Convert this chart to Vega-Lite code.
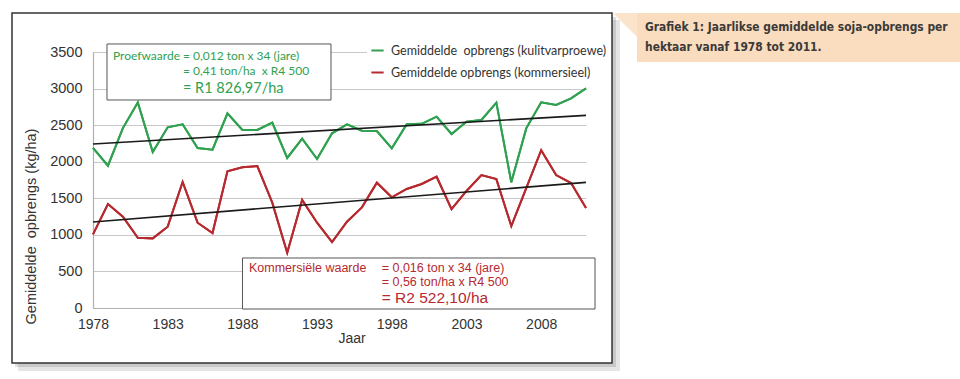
{
  "$schema": "https://vega.github.io/schema/vega-lite/v6.json",
  "width": 493,
  "height": 256,
  "autosize": {"type": "none"},
  "padding": {"left": 93, "top": 52, "right": 374, "bottom": 71},
  "background": "white",
  "config": {"view": {"stroke": null}, "font": "Liberation Sans"},
  "resolve": {"axis": {"x": "independent", "y": "independent"}},
  "datasets": {
    "yields": [
      {"year": 1978, "series": "Gemiddelde\u00a0 opbrengs (kulitvarproewe)", "value": 2190},
      {"year": 1979, "series": "Gemiddelde\u00a0 opbrengs (kulitvarproewe)", "value": 1945},
      {"year": 1980, "series": "Gemiddelde\u00a0 opbrengs (kulitvarproewe)", "value": 2460},
      {"year": 1981, "series": "Gemiddelde\u00a0 opbrengs (kulitvarproewe)", "value": 2810},
      {"year": 1982, "series": "Gemiddelde\u00a0 opbrengs (kulitvarproewe)", "value": 2133},
      {"year": 1983, "series": "Gemiddelde\u00a0 opbrengs (kulitvarproewe)", "value": 2470},
      {"year": 1984, "series": "Gemiddelde\u00a0 opbrengs (kulitvarproewe)", "value": 2511},
      {"year": 1985, "series": "Gemiddelde\u00a0 opbrengs (kulitvarproewe)", "value": 2187},
      {"year": 1986, "series": "Gemiddelde\u00a0 opbrengs (kulitvarproewe)", "value": 2165},
      {"year": 1987, "series": "Gemiddelde\u00a0 opbrengs (kulitvarproewe)", "value": 2661},
      {"year": 1988, "series": "Gemiddelde\u00a0 opbrengs (kulitvarproewe)", "value": 2434},
      {"year": 1989, "series": "Gemiddelde\u00a0 opbrengs (kulitvarproewe)", "value": 2434},
      {"year": 1990, "series": "Gemiddelde\u00a0 opbrengs (kulitvarproewe)", "value": 2534},
      {"year": 1991, "series": "Gemiddelde\u00a0 opbrengs (kulitvarproewe)", "value": 2051},
      {"year": 1992, "series": "Gemiddelde\u00a0 opbrengs (kulitvarproewe)", "value": 2315},
      {"year": 1993, "series": "Gemiddelde\u00a0 opbrengs (kulitvarproewe)", "value": 2037},
      {"year": 1994, "series": "Gemiddelde\u00a0 opbrengs (kulitvarproewe)", "value": 2388},
      {"year": 1995, "series": "Gemiddelde\u00a0 opbrengs (kulitvarproewe)", "value": 2511},
      {"year": 1996, "series": "Gemiddelde\u00a0 opbrengs (kulitvarproewe)", "value": 2424},
      {"year": 1997, "series": "Gemiddelde\u00a0 opbrengs (kulitvarproewe)", "value": 2420},
      {"year": 1998, "series": "Gemiddelde\u00a0 opbrengs (kulitvarproewe)", "value": 2183},
      {"year": 1999, "series": "Gemiddelde\u00a0 opbrengs (kulitvarproewe)", "value": 2511},
      {"year": 2000, "series": "Gemiddelde\u00a0 opbrengs (kulitvarproewe)", "value": 2518},
      {"year": 2001, "series": "Gemiddelde\u00a0 opbrengs (kulitvarproewe)", "value": 2616},
      {"year": 2002, "series": "Gemiddelde\u00a0 opbrengs (kulitvarproewe)", "value": 2379},
      {"year": 2003, "series": "Gemiddelde\u00a0 opbrengs (kulitvarproewe)", "value": 2547},
      {"year": 2004, "series": "Gemiddelde\u00a0 opbrengs (kulitvarproewe)", "value": 2570},
      {"year": 2005, "series": "Gemiddelde\u00a0 opbrengs (kulitvarproewe)", "value": 2807},
      {"year": 2006, "series": "Gemiddelde\u00a0 opbrengs (kulitvarproewe)", "value": 1718},
      {"year": 2007, "series": "Gemiddelde\u00a0 opbrengs (kulitvarproewe)", "value": 2456},
      {"year": 2008, "series": "Gemiddelde\u00a0 opbrengs (kulitvarproewe)", "value": 2812},
      {"year": 2009, "series": "Gemiddelde\u00a0 opbrengs (kulitvarproewe)", "value": 2775},
      {"year": 2010, "series": "Gemiddelde\u00a0 opbrengs (kulitvarproewe)", "value": 2866},
      {"year": 2011, "series": "Gemiddelde\u00a0 opbrengs (kulitvarproewe)", "value": 3003},
      {"year": 1978, "series": "Gemiddelde opbrengs (kommersieel)", "value": 1007},
      {"year": 1979, "series": "Gemiddelde opbrengs (kommersieel)", "value": 1422},
      {"year": 1980, "series": "Gemiddelde opbrengs (kommersieel)", "value": 1248},
      {"year": 1981, "series": "Gemiddelde opbrengs (kommersieel)", "value": 961},
      {"year": 1982, "series": "Gemiddelde opbrengs (kommersieel)", "value": 952},
      {"year": 1983, "series": "Gemiddelde opbrengs (kommersieel)", "value": 1112},
      {"year": 1984, "series": "Gemiddelde opbrengs (kommersieel)", "value": 1723},
      {"year": 1985, "series": "Gemiddelde opbrengs (kommersieel)", "value": 1166},
      {"year": 1986, "series": "Gemiddelde opbrengs (kommersieel)", "value": 1025},
      {"year": 1987, "series": "Gemiddelde opbrengs (kommersieel)", "value": 1869},
      {"year": 1988, "series": "Gemiddelde opbrengs (kommersieel)", "value": 1923},
      {"year": 1989, "series": "Gemiddelde opbrengs (kommersieel)", "value": 1941},
      {"year": 1990, "series": "Gemiddelde opbrengs (kommersieel)", "value": 1440},
      {"year": 1991, "series": "Gemiddelde opbrengs (kommersieel)", "value": 756},
      {"year": 1992, "series": "Gemiddelde opbrengs (kommersieel)", "value": 1477},
      {"year": 1993, "series": "Gemiddelde opbrengs (kommersieel)", "value": 1166},
      {"year": 1994, "series": "Gemiddelde opbrengs (kommersieel)", "value": 902},
      {"year": 1995, "series": "Gemiddelde opbrengs (kommersieel)", "value": 1180},
      {"year": 1996, "series": "Gemiddelde opbrengs (kommersieel)", "value": 1376},
      {"year": 1997, "series": "Gemiddelde opbrengs (kommersieel)", "value": 1713},
      {"year": 1998, "series": "Gemiddelde opbrengs (kommersieel)", "value": 1513},
      {"year": 1999, "series": "Gemiddelde opbrengs (kommersieel)", "value": 1627},
      {"year": 2000, "series": "Gemiddelde opbrengs (kommersieel)", "value": 1695},
      {"year": 2001, "series": "Gemiddelde opbrengs (kommersieel)", "value": 1795},
      {"year": 2002, "series": "Gemiddelde opbrengs (kommersieel)", "value": 1352},
      {"year": 2003, "series": "Gemiddelde opbrengs (kommersieel)", "value": 1600},
      {"year": 2004, "series": "Gemiddelde opbrengs (kommersieel)", "value": 1817},
      {"year": 2005, "series": "Gemiddelde opbrengs (kommersieel)", "value": 1762},
      {"year": 2006, "series": "Gemiddelde opbrengs (kommersieel)", "value": 1120},
      {"year": 2007, "series": "Gemiddelde opbrengs (kommersieel)", "value": 1640},
      {"year": 2008, "series": "Gemiddelde opbrengs (kommersieel)", "value": 2158},
      {"year": 2009, "series": "Gemiddelde opbrengs (kommersieel)", "value": 1817},
      {"year": 2010, "series": "Gemiddelde opbrengs (kommersieel)", "value": 1708},
      {"year": 2011, "series": "Gemiddelde opbrengs (kommersieel)", "value": 1366}
    ],
    "trend": [
      {"year": 1978, "series": "kulitvarproewe", "value": 2242},
      {"year": 2011, "series": "kulitvarproewe", "value": 2634},
      {"year": 1978, "series": "kommersieel", "value": 1176},
      {"year": 2011, "series": "kommersieel", "value": 1718}
    ]
  },
  "layer": [
    {
      "data": {"name": "yields"},
      "mark": {"type": "line", "strokeWidth": 2, "clip": false},
      "encoding": {
        "x": {"field": "year", "type": "quantitative",
          "scale": {"domain": [1978, 2011], "nice": false, "zero": false},
          "axis": {"title": "Jaar", "values": [1978, 1983, 1988, 1993, 1998, 2003, 2008], "format": "d",
            "grid": false, "domain": true, "ticks": false, "tickSize": 0, "labelPadding": 9, "labelFontSize": 14,
            "labelColor": "#333333", "labelFont": "Liberation Sans", "domainColor": "#b0b0b0", "domainWidth": 1.2, "labelFlush": false,
            "labelOverlap": false, "titleFontSize": 14, "titleFontWeight": "normal", "titleColor": "#333333",
            "titleFont": "Liberation Sans", "titleX": 258.5, "titleY": 30, "titleBaseline": "middle"}},
        "y": {"field": "value", "type": "quantitative",
          "scale": {"domain": [0, 3500], "nice": false},
          "axis": {"title": "Gemiddelde\u00a0 opbrengs (kg/ha)", "values": [0, 500, 1000, 1500, 2000, 2500, 3000, 3500],
            "format": "d", "labelOverlap": false, "labelFlush": false, "domain": true,
            "grid": true, "gridColor": "#c8c8c8", "gridOpacity": 1, "gridWidth": 1.1, "ticks": false, "tickSize": 0, "labelPadding": 11,
            "labelFontSize": 14.5, "labelColor": "#333333", "labelFont": "Liberation Sans", "domainColor": "#b0b0b0", "domainWidth": 1.2,
            "titleFontSize": 14.5, "titleFontWeight": "normal", "titleColor": "#333333", "titleFont": "Liberation Sans",
            "titleX": -61.5, "titleY": 174, "titleBaseline": "middle"}},
        "color": {"field": "series", "type": "nominal",
          "scale": {"domain": ["Gemiddelde\u00a0 opbrengs (kulitvarproewe)", "Gemiddelde opbrengs (kommersieel)"],
            "range": ["#30a150", "#b62a2f"]},
          "legend": {"orient": "none", "legendX": 274, "legendY": -12, "title": null, "symbolType": "stroke",
            "symbolStrokeWidth": 2, "symbolSize": 150, "labelFont": "Lato", "labelFontSize": 12.5,
            "labelColor": "#333333", "rowPadding": 8, "labelOffset": 6, "labelLimit": 400,
            "fillColor": "white", "padding": 3, "strokeColor": null}}
      }
    },
    {
      "data": {"values": [{}]},
      "mark": {"type": "rect", "fill": "#000000", "opacity": 0.1, "clip": false},
      "encoding": {
        "x": {"datum": 2012.741, "type": "quantitative", "axis": null},
        "x2": {"datum": 2013.277},
        "y": {"datum": 3937.5, "type": "quantitative", "axis": null},
        "y2": {"datum": -861.3}
      }
    },
    {
      "data": {"values": [{}]},
      "mark": {"type": "rect", "fill": "#000000", "opacity": 0.12, "clip": false},
      "encoding": {
        "x": {"datum": 2012.741, "type": "quantitative", "axis": null},
        "x2": {"datum": 2013.009},
        "y": {"datum": 3978.5, "type": "quantitative", "axis": null},
        "y2": {"datum": -806.6}
      }
    },
    {
      "data": {"values": [{}]},
      "mark": {"type": "rect", "fill": "#000000", "opacity": 0.1, "clip": false},
      "encoding": {
        "x": {"datum": 1972.98, "type": "quantitative", "axis": null},
        "x2": {"datum": 2012.741},
        "y": {"datum": -752.0, "type": "quantitative", "axis": null},
        "y2": {"datum": -861.3}
      }
    },
    {
      "data": {"values": [{}]},
      "mark": {"type": "rect", "fill": "#000000", "opacity": 0.12, "clip": false},
      "encoding": {
        "x": {"datum": 1972.779, "type": "quantitative", "axis": null},
        "x2": {"datum": 2012.741},
        "y": {"datum": -752.0, "type": "quantitative", "axis": null},
        "y2": {"datum": -806.6}
      }
    },
    {
      "data": {"values": [{}]},
      "mark": {"type": "rect", "filled": false, "stroke": "#333333", "strokeWidth": 1.5, "clip": false},
      "encoding": {
        "x": {"datum": 1972.578, "type": "quantitative", "axis": null},
        "x2": {"datum": 2012.741},
        "y": {"datum": 4033.2, "type": "quantitative", "axis": null},
        "y2": {"datum": -752.0}
      }
    },
    {
      "data": {"values": [{}]},
      "mark": {"type": "rect", "fill": "#fadcbe", "clip": false},
      "encoding": {
        "x": {"datum": 2014.414, "type": "quantitative", "axis": null},
        "x2": {"datum": 2036.035},
        "y": {"datum": 4033.2, "type": "quantitative", "axis": null},
        "y2": {"datum": 3363.3}
      }
    },
    {
      "data": {"values": [{}]},
      "mark": {"type": "point", "shape": "M -1 -1 L 1 -1 L 1 1 Z", "filled": true, "fill": "#fbe3cc", "opacity": 1, "size": 576, "clip": false},
      "encoding": {
        "x": {"datum": 2013.61, "type": "quantitative", "axis": null},
        "y": {"datum": 3869.2, "type": "quantitative", "axis": null}
      }
    },
    {
      "data": {"values": [{}]},
      "mark": {"type": "text", "text": "Grafiek 1: Jaarlikse gemiddelde soja-opbrengs per", "align": "left", "baseline": "middle",
        "font": "DejaVu Sans Condensed, Liberation Sans", "fontWeight": "bold", "fontSize": 11.9, "fill": "#3a3a3a", "clip": false},
      "encoding": {
        "x": {"datum": 2014.95, "type": "quantitative", "axis": null},
        "y": {"datum": 3841.8, "type": "quantitative", "axis": null}
      }
    },
    {
      "data": {"values": [{}]},
      "mark": {"type": "text", "text": "hektaar vanaf 1978 tot 2011.", "align": "left", "baseline": "middle",
        "font": "DejaVu Sans Condensed, Liberation Sans", "fontWeight": "bold", "fontSize": 11.9, "fill": "#3a3a3a", "clip": false},
      "encoding": {
        "x": {"datum": 2014.95, "type": "quantitative", "axis": null},
        "y": {"datum": 3568.4, "type": "quantitative", "axis": null}
      }
    },
    {
      "data": {"values": [{}]},
      "mark": {"type": "rect", "fill": "white", "stroke": "#555555", "strokeWidth": 1, "clip": false},
      "encoding": {
        "x": {"datum": 1978.937, "type": "quantitative", "axis": null},
        "x2": {"datum": 1993.931},
        "y": {"datum": 3609.4, "type": "quantitative", "axis": null},
        "y2": {"datum": 2843.8}
      }
    },
    {
      "data": {"values": [{}]},
      "mark": {"type": "rect", "fill": "white", "stroke": "#555555", "strokeWidth": 1, "clip": false},
      "encoding": {
        "x": {"datum": 1988.007, "type": "quantitative", "axis": null},
        "x2": {"datum": 2011.603},
        "y": {"datum": 683.6, "type": "quantitative", "axis": null},
        "y2": {"datum": -13.7}
      }
    },
    {
      "data": {"name": "yields"},
      "mark": {"type": "line", "strokeWidth": 2, "clip": false},
      "encoding": {
        "x": {"field": "year", "type": "quantitative", "axis": null},
        "y": {"field": "value", "type": "quantitative", "axis": null},
        "color": {"field": "series", "type": "nominal"}
      }
    },
    {
      "data": {"name": "trend"},
      "mark": {"type": "line", "strokeWidth": 1.6, "color": "#1a1a1a", "clip": false},
      "encoding": {
        "x": {"field": "year", "type": "quantitative", "axis": null},
        "y": {"field": "value", "type": "quantitative", "axis": null},
        "detail": {"field": "series", "type": "nominal"}
      }
    },
    {
      "data": {"values": [{}]},
      "mark": {"type": "text", "text": "Proefwaarde = 0,012 ton x 34 (jare)", "align": "left", "baseline": "middle",
        "font": "Lato", "fontSize": 12, "fill": "#30a150", "clip": false},
      "encoding": {
        "x": {"datum": 1979.339, "type": "quantitative", "axis": null},
        "y": {"datum": 3449.4, "type": "quantitative", "axis": null}
      }
    },
    {
      "data": {"values": [{}]},
      "mark": {"type": "text", "text": "= 0,41 ton/ha\u00a0 x R4 500", "align": "left", "baseline": "middle",
        "font": "Lato", "fontSize": 12, "fill": "#30a150", "clip": false},
      "encoding": {
        "x": {"datum": 1984.024, "type": "quantitative", "axis": null},
        "y": {"datum": 3244.3, "type": "quantitative", "axis": null}
      }
    },
    {
      "data": {"values": [{}]},
      "mark": {"type": "text", "text": "= R1 826,97/ha", "align": "left", "baseline": "middle",
        "font": "Lato", "fontSize": 14.5, "fill": "#30a150", "clip": false},
      "encoding": {
        "x": {"datum": 1984.024, "type": "quantitative", "axis": null},
        "y": {"datum": 2994.1, "type": "quantitative", "axis": null}
      }
    },
    {
      "data": {"values": [{}]},
      "mark": {"type": "text", "text": "Kommersiële waarde", "align": "left", "baseline": "middle",
        "font": "Liberation Sans", "fontSize": 12.5, "fill": "#b62a2f", "clip": false},
      "encoding": {
        "x": {"datum": 1988.442, "type": "quantitative", "axis": null},
        "y": {"datum": 542.8, "type": "quantitative", "axis": null}
      }
    },
    {
      "data": {"values": [{}]},
      "mark": {"type": "text", "text": "= 0,016 ton x 34 (jare)", "align": "left", "baseline": "middle",
        "font": "Liberation Sans", "fontSize": 12.5, "fill": "#b62a2f", "clip": false},
      "encoding": {
        "x": {"datum": 1997.325, "type": "quantitative", "axis": null},
        "y": {"datum": 542.8, "type": "quantitative", "axis": null}
      }
    },
    {
      "data": {"values": [{}]},
      "mark": {"type": "text", "text": "= 0,56 ton/ha x R4 500", "align": "left", "baseline": "middle",
        "font": "Liberation Sans", "fontSize": 12.5, "fill": "#b62a2f", "clip": false},
      "encoding": {
        "x": {"datum": 1997.325, "type": "quantitative", "axis": null},
        "y": {"datum": 351.4, "type": "quantitative", "axis": null}
      }
    },
    {
      "data": {"values": [{}]},
      "mark": {"type": "text", "text": "= R2 522,10/ha", "align": "left", "baseline": "middle",
        "font": "Liberation Sans", "fontSize": 15.5, "fill": "#b62a2f", "clip": false},
      "encoding": {
        "x": {"datum": 1997.325, "type": "quantitative", "axis": null},
        "y": {"datum": 132.6, "type": "quantitative", "axis": null}
      }
    }
  ]
}
